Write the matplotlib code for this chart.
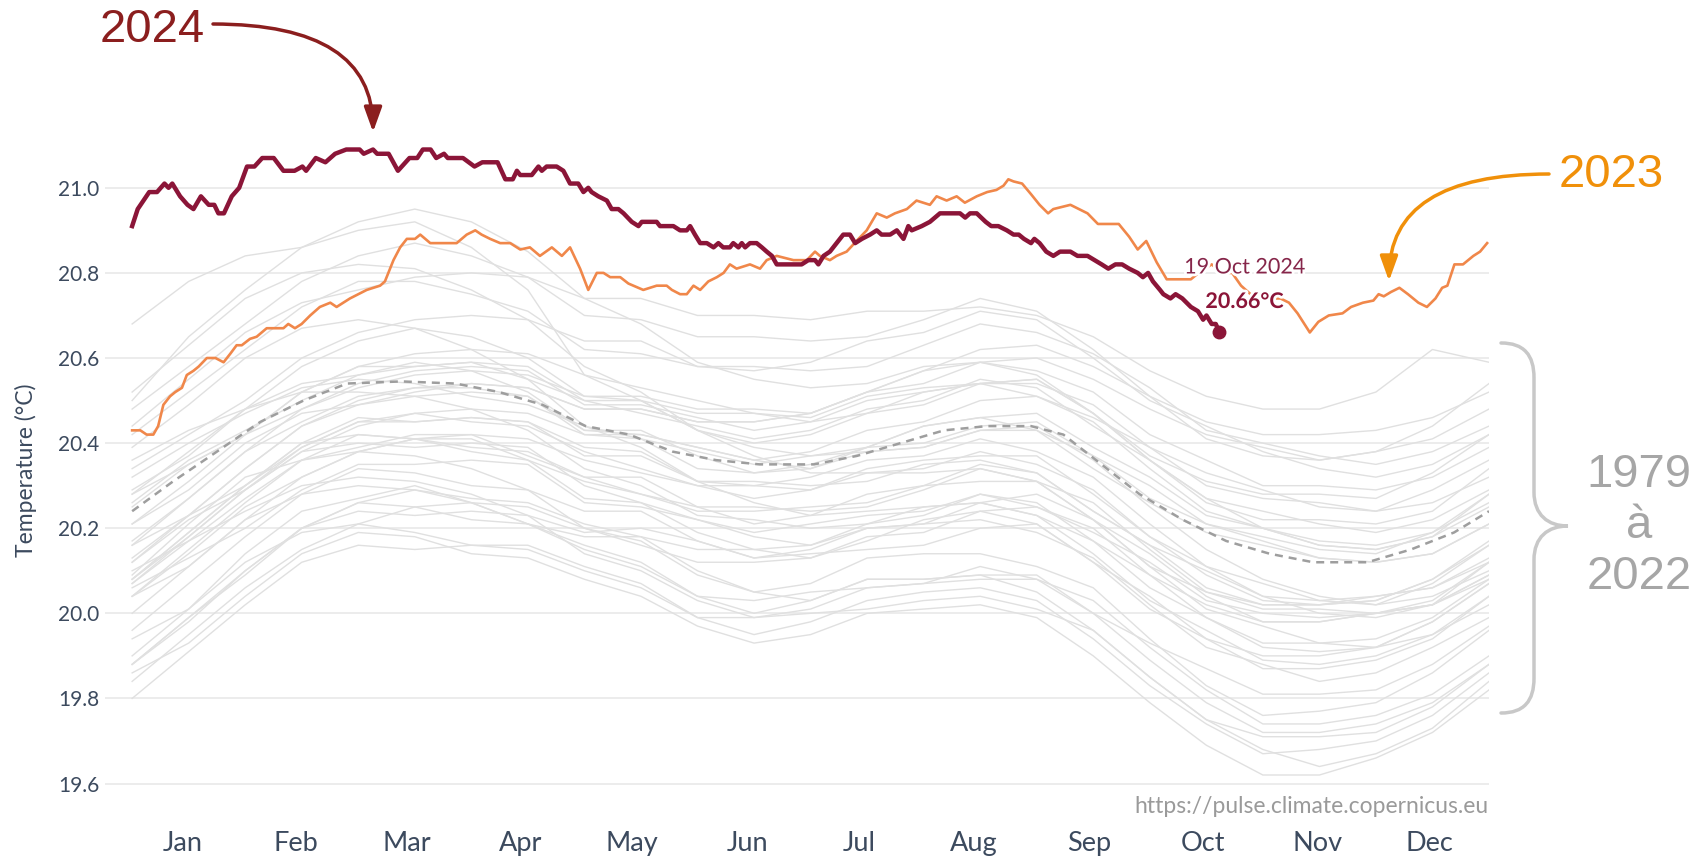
import numpy as np
import matplotlib
matplotlib.use('Agg')
import matplotlib.pyplot as plt
import matplotlib.patheffects as pe
from matplotlib.path import Path
from matplotlib.patches import PathPatch
from matplotlib.transforms import Affine2D

plt.rcParams['font.family'] = 'Lato'

W, H = 1702, 861

months = ['Jan', 'Feb', 'Mar', 'Apr', 'May', 'Jun', 'Jul', 'Aug', 'Sep', 'Oct', 'Nov', 'Dec']
month_mid = [13.5, 44, 74, 104.5, 134.5, 165.5, 195.5, 226.5, 257.5, 288, 319, 349]
yticks = [19.6, 19.8, 20.0, 20.2, 20.4, 20.6, 20.8, 21.0]

# 2024 (day of year from 1 Jan, daily SST in degC)
day2024 = [0, 1.5, 4.6, 6.7, 8.7, 9.8, 10.8, 12.9, 14.9, 16.5, 18.5, 20.6, 22.1, 23.2, 24.7, 26.8,
           28.8, 30.9, 32.9, 35.0, 38.1, 40.7, 43.7, 45.8, 46.8, 49.4, 52.0, 54.6, 57.6, 61.2, 62.3,
           64.8, 65.9, 69.0, 71.5, 74.6, 76.7, 78.2, 80.3, 81.8, 83.9, 84.9, 89.0, 92.1, 94.2, 98.3,
           100.4, 102.4, 103.5, 104.4, 107.5, 109.3, 110.2, 111.5, 114.2, 116.0, 117.8, 120.0, 121.4,
           122.7, 123.6, 125.4, 127.7, 129.0, 130.8, 132.2, 134.4, 136.2, 137.1, 141.1, 142.0, 145.6,
           147.4, 149.2, 150.1, 151.4, 152.8, 154.6, 156.4, 157.7, 159.0, 160.8, 161.7, 163.1, 164.0,
           164.9, 166.2, 168.0, 169.4, 170.7, 172.1, 173.4, 176.1, 180.1, 181.9, 183.7, 184.6, 186.0,
           187.7, 189.5, 191.3, 193.1, 194.5, 196.3, 198.5, 200.3, 201.6, 203.9, 205.7, 207.5, 208.8,
           209.7, 212.4, 214.6, 217.3, 219.1, 222.7, 224.1, 225.4, 227.2, 229.6, 231.1, 233.0, 235.3,
           237.1, 238.5, 239.9, 241.8, 242.7, 244.1, 245.9, 247.8, 249.6, 252.4, 254.3, 257.0, 258.9,
           260.8, 262.6, 264.5, 266.3, 268.2, 270.5, 271.9, 273.3, 274.6, 276.5, 277.4, 279.3, 280.7,
           282.5, 284.8, 286.7, 288.1, 289.0, 290.4, 291.5, 292.5]
val2024 = [20.91, 20.95, 20.99, 20.99, 21.01, 21.00, 21.01, 20.98, 20.96, 20.95, 20.98, 20.96, 20.96,
           20.94, 20.94, 20.98, 21.00, 21.05, 21.05, 21.07, 21.07, 21.04, 21.04, 21.05, 21.04, 21.07,
           21.06, 21.08, 21.09, 21.09, 21.08, 21.09, 21.08, 21.08, 21.04, 21.07, 21.07, 21.09, 21.09,
           21.07, 21.08, 21.07, 21.07, 21.05, 21.06, 21.06, 21.02, 21.02, 21.04, 21.03, 21.03, 21.05,
           21.04, 21.05, 21.05, 21.04, 21.01, 21.01, 20.99, 21.00, 20.99, 20.98, 20.97, 20.95, 20.95,
           20.94, 20.92, 20.91, 20.92, 20.92, 20.91, 20.91, 20.90, 20.90, 20.91, 20.89, 20.87, 20.87,
           20.86, 20.87, 20.86, 20.86, 20.87, 20.86, 20.87, 20.86, 20.87, 20.87, 20.86, 20.85, 20.84,
           20.82, 20.82, 20.82, 20.83, 20.83, 20.82, 20.84, 20.85, 20.87, 20.89, 20.89, 20.87, 20.88,
           20.89, 20.90, 20.89, 20.89, 20.90, 20.88, 20.91, 20.90, 20.91, 20.92, 20.94, 20.94, 20.94,
           20.93, 20.94, 20.94, 20.92, 20.91, 20.91, 20.90, 20.89, 20.89, 20.88, 20.87, 20.88, 20.87,
           20.85, 20.84, 20.85, 20.85, 20.84, 20.84, 20.83, 20.82, 20.81, 20.82, 20.82, 20.81, 20.80,
           20.79, 20.80, 20.78, 20.76, 20.75, 20.74, 20.75, 20.74, 20.72, 20.71, 20.69, 20.70, 20.68,
           20.68, 20.66]

# 2023
day2023 = [0, 2.2, 3.9, 5.7, 7.0, 8.4, 10.2, 11.6, 13.4, 14.7, 16.5, 17.9, 20.1, 22.4, 24.6, 26.4,
           28.1, 29.5, 31.7, 33.5, 36.2, 40.7, 42.0, 43.8, 45.6, 47.9, 50.5, 53.3, 55.0, 58.6, 63.1,
           66.7, 68.0, 70.3, 72.1, 73.9, 76.1, 77.5, 80.2, 87.3, 90.0, 92.3, 94.0, 96.3, 99.0, 101.7,
           104.4, 107.0, 109.7, 112.9, 115.6, 117.8, 120.5, 122.7, 125.0, 126.8, 128.6, 131.3, 133.5,
           137.5, 141.1, 143.8, 145.2, 147.4, 149.2, 151.0, 152.8, 155.0, 157.3, 159.1, 160.8, 162.6,
           166.2, 168.9, 170.7, 173.4, 177.9, 181.5, 183.7, 185.0, 187.7, 189.5, 192.2, 195.4, 197.6,
           200.3, 203.0, 205.2, 208.4, 211.0, 214.6, 216.4, 219.1, 221.8, 224.0, 227.2, 230.0, 232.5,
           234.4, 235.7, 237.1, 239.4, 241.8, 244.1, 246.4, 247.8, 252.4, 254.7, 257.0, 259.8, 265.4,
           268.2, 270.5, 272.8, 275.6, 278.3, 284.8, 287.6, 290.4, 293.2, 295.9, 298.3, 301.5, 305.2,
           308.9, 311.2, 313.5, 316.8, 319.1, 321.9, 325.6, 327.9, 331.1, 333.9, 335.3, 336.7, 338.6,
           340.9, 343.2, 346.0, 348.3, 350.6, 352.4, 353.8, 355.7, 358.0, 360.8, 362.6, 364.5]
val2023 = [20.43, 20.43, 20.42, 20.42, 20.44, 20.49, 20.51, 20.52, 20.53, 20.56, 20.57, 20.58, 20.60,
           20.60, 20.59, 20.61, 20.63, 20.63, 20.645, 20.65, 20.67, 20.67, 20.68, 20.67, 20.68, 20.70,
           20.72, 20.73, 20.72, 20.74, 20.76, 20.77, 20.78, 20.83, 20.86, 20.88, 20.88, 20.89, 20.87,
           20.87, 20.89, 20.90, 20.89, 20.88, 20.87, 20.87, 20.855, 20.86, 20.84, 20.86, 20.84, 20.86,
           20.81, 20.76, 20.80, 20.80, 20.79, 20.79, 20.775, 20.76, 20.77, 20.77, 20.76, 20.75, 20.75,
           20.77, 20.76, 20.78, 20.79, 20.80, 20.82, 20.81, 20.82, 20.81, 20.83, 20.84, 20.83, 20.83,
           20.85, 20.84, 20.83, 20.84, 20.85, 20.88, 20.90, 20.94, 20.93, 20.94, 20.95, 20.97, 20.96,
           20.98, 20.97, 20.98, 20.965, 20.98, 20.99, 20.995, 21.005, 21.02, 21.015, 21.01, 20.985,
           20.96, 20.94, 20.95, 20.96, 20.95, 20.94, 20.915, 20.915, 20.885, 20.855, 20.875, 20.825,
           20.785, 20.785, 20.805, 20.82, 20.80, 20.80, 20.77, 20.745, 20.74, 20.74, 20.73, 20.705,
           20.66, 20.685, 20.70, 20.705, 20.72, 20.73, 20.735, 20.75, 20.745, 20.755, 20.765, 20.75,
           20.73, 20.72, 20.74, 20.765, 20.77, 20.82, 20.82, 20.84, 20.85, 20.87]

# 1991-2020 average (dashed)
mean_days = [0, 11, 22.8, 34.5, 46.1, 57.8, 72.4, 87, 98.7, 110.4, 122, 133.7, 145.4, 157.1, 168.8,
             183.4, 195, 206.7, 218.4, 230, 241.8, 250.5, 259.3, 271, 282.6, 294.3, 306, 317.7,
             332.3, 344, 355.6, 365]
mean_vals = [20.24, 20.31, 20.38, 20.45, 20.50, 20.54, 20.545, 20.54, 20.52, 20.49, 20.44, 20.42,
             20.38, 20.36, 20.35, 20.35, 20.37, 20.40, 20.43, 20.44, 20.44, 20.42, 20.36, 20.28,
             20.22, 20.17, 20.14, 20.12, 20.12, 20.15, 20.19, 20.24]

# 1979-2022, semi-monthly readings
past_days = np.linspace(0, 365, 25)
y1979 = [19.88, 19.99, 20.09, 20.20, 20.26, 20.25, 20.22, 20.21, 20.16, 20.12, 20.04, 20.00, 20.03, 20.08, 20.08, 20.09, 20.09, 20.00, 19.89, 19.79, 19.72, 19.72, 19.74, 19.79, 19.88]
y1980 = [19.94, 20.01, 20.14, 20.24, 20.27, 20.30, 20.26, 20.21, 20.18, 20.18, 20.10, 20.05, 20.07, 20.13, 20.14, 20.14, 20.11, 20.06, 19.94, 19.83, 19.76, 19.77, 19.79, 19.86, 19.96]
y1981 = [19.84, 19.95, 20.06, 20.15, 20.21, 20.19, 20.16, 20.16, 20.11, 20.07, 19.99, 19.95, 19.98, 20.03, 20.05, 20.06, 20.03, 19.94, 19.83, 19.74, 19.67, 19.68, 19.70, 19.76, 19.86]
y1982 = [19.88, 19.98, 20.10, 20.20, 20.24, 20.23, 20.24, 20.23, 20.19, 20.20, 20.17, 20.13, 20.15, 20.20, 20.21, 20.26, 20.28, 20.22, 20.11, 20.05, 20.02, 20.02, 20.04, 20.06, 20.12]
y1983 = [20.09, 20.21, 20.32, 20.36, 20.38, 20.37, 20.34, 20.29, 20.20, 20.17, 20.09, 20.05, 20.03, 20.08, 20.08, 20.09, 20.05, 19.96, 19.85, 19.75, 19.68, 19.64, 19.67, 19.73, 19.84]
y1984 = [19.86, 19.93, 20.04, 20.14, 20.19, 20.18, 20.14, 20.13, 20.08, 20.04, 19.97, 19.93, 19.95, 20.00, 20.01, 20.02, 19.99, 19.90, 19.79, 19.69, 19.62, 19.62, 19.66, 19.72, 19.82]
y1985 = [19.80, 19.91, 20.02, 20.12, 20.16, 20.15, 20.16, 20.15, 20.10, 20.06, 19.99, 19.99, 20.01, 20.06, 20.07, 20.08, 20.08, 20.03, 19.92, 19.82, 19.74, 19.74, 19.76, 19.81, 19.90]
y1986 = [19.90, 20.01, 20.12, 20.19, 20.21, 20.25, 20.26, 20.25, 20.20, 20.16, 20.12, 20.12, 20.13, 20.18, 20.19, 20.24, 20.25, 20.20, 20.09, 20.02, 19.98, 19.98, 20.00, 20.02, 20.09]
y1987 = [20.08, 20.19, 20.30, 20.40, 20.46, 20.45, 20.46, 20.45, 20.39, 20.38, 20.31, 20.30, 20.32, 20.36, 20.37, 20.41, 20.38, 20.32, 20.21, 20.11, 20.07, 20.03, 20.02, 20.04, 20.10]
y1988 = [20.10, 20.17, 20.24, 20.30, 20.32, 20.31, 20.28, 20.23, 20.14, 20.10, 20.03, 19.99, 20.00, 20.01, 20.03, 20.04, 20.01, 19.96, 19.85, 19.75, 19.71, 19.71, 19.72, 19.78, 19.88]
y1989 = [19.88, 19.99, 20.10, 20.20, 20.26, 20.29, 20.27, 20.26, 20.21, 20.18, 20.15, 20.15, 20.13, 20.17, 20.22, 20.24, 20.21, 20.12, 20.04, 19.94, 19.90, 19.90, 19.92, 19.95, 20.02]
y1990 = [20.04, 20.15, 20.26, 20.36, 20.39, 20.42, 20.42, 20.37, 20.32, 20.32, 20.25, 20.21, 20.23, 20.28, 20.30, 20.31, 20.31, 20.26, 20.15, 20.05, 20.01, 20.01, 20.00, 20.02, 20.09]
y1991 = [20.08, 20.18, 20.29, 20.38, 20.40, 20.39, 20.40, 20.39, 20.30, 20.26, 20.22, 20.18, 20.16, 20.20, 20.21, 20.22, 20.19, 20.13, 20.02, 19.92, 19.88, 19.84, 19.86, 19.92, 19.99]
y1992 = [20.00, 20.11, 20.22, 20.28, 20.30, 20.29, 20.26, 20.21, 20.15, 20.11, 20.04, 20.03, 20.05, 20.06, 20.07, 20.11, 20.08, 20.00, 19.93, 19.87, 19.81, 19.81, 19.82, 19.88, 19.97]
y1993 = [19.96, 20.07, 20.18, 20.28, 20.34, 20.33, 20.30, 20.29, 20.24, 20.24, 20.17, 20.13, 20.14, 20.15, 20.16, 20.20, 20.21, 20.12, 20.01, 19.94, 19.87, 19.87, 19.89, 19.94, 20.04]
y1994 = [20.04, 20.14, 20.25, 20.32, 20.38, 20.41, 20.39, 20.38, 20.32, 20.28, 20.24, 20.24, 20.25, 20.26, 20.30, 20.35, 20.33, 20.24, 20.16, 20.10, 20.04, 20.00, 19.99, 20.02, 20.08]
y1995 = [20.08, 20.19, 20.30, 20.40, 20.42, 20.41, 20.41, 20.36, 20.27, 20.26, 20.19, 20.15, 20.16, 20.21, 20.23, 20.28, 20.26, 20.17, 20.09, 19.99, 19.93, 19.93, 19.94, 19.99, 20.08]
y1996 = [20.06, 20.13, 20.20, 20.29, 20.35, 20.35, 20.36, 20.35, 20.26, 20.25, 20.22, 20.19, 20.21, 20.23, 20.24, 20.28, 20.25, 20.19, 20.12, 20.03, 20.00, 19.99, 20.00, 20.02, 20.12]
y1997 = [20.12, 20.23, 20.34, 20.44, 20.49, 20.52, 20.54, 20.53, 20.48, 20.48, 20.45, 20.45, 20.47, 20.52, 20.57, 20.62, 20.63, 20.58, 20.51, 20.45, 20.42, 20.42, 20.43, 20.46, 20.52]
y1998 = [20.52, 20.63, 20.74, 20.80, 20.82, 20.81, 20.76, 20.69, 20.58, 20.52, 20.43, 20.37, 20.33, 20.33, 20.33, 20.34, 20.31, 20.22, 20.11, 20.01, 19.97, 19.93, 19.92, 19.98, 20.07]
y1999 = [20.07, 20.17, 20.27, 20.36, 20.42, 20.41, 20.38, 20.36, 20.31, 20.28, 20.25, 20.25, 20.24, 20.25, 20.29, 20.34, 20.31, 20.22, 20.14, 20.04, 19.98, 19.98, 20.00, 20.03, 20.12]
y2000 = [20.12, 20.22, 20.29, 20.38, 20.44, 20.47, 20.45, 20.44, 20.38, 20.34, 20.30, 20.30, 20.29, 20.34, 20.36, 20.37, 20.37, 20.28, 20.18, 20.09, 20.03, 20.02, 20.03, 20.08, 20.16]
y2001 = [20.16, 20.27, 20.38, 20.45, 20.51, 20.53, 20.53, 20.51, 20.42, 20.41, 20.38, 20.35, 20.37, 20.39, 20.44, 20.46, 20.43, 20.37, 20.30, 20.21, 20.18, 20.15, 20.14, 20.19, 20.28]
y2002 = [20.28, 20.38, 20.48, 20.54, 20.56, 20.58, 20.59, 20.58, 20.50, 20.50, 20.47, 20.47, 20.46, 20.51, 20.53, 20.54, 20.54, 20.49, 20.39, 20.33, 20.29, 20.25, 20.24, 20.26, 20.32]
y2003 = [20.32, 20.40, 20.47, 20.53, 20.55, 20.54, 20.51, 20.49, 20.44, 20.41, 20.34, 20.33, 20.35, 20.39, 20.40, 20.44, 20.45, 20.37, 20.27, 20.21, 20.17, 20.13, 20.12, 20.14, 20.21]
y2004 = [20.21, 20.29, 20.40, 20.47, 20.49, 20.51, 20.52, 20.51, 20.43, 20.43, 20.37, 20.33, 20.34, 20.39, 20.44, 20.46, 20.47, 20.39, 20.32, 20.23, 20.20, 20.17, 20.16, 20.19, 20.26]
y2005 = [20.26, 20.36, 20.43, 20.50, 20.56, 20.59, 20.57, 20.52, 20.43, 20.42, 20.39, 20.36, 20.34, 20.38, 20.39, 20.43, 20.44, 20.36, 20.25, 20.15, 20.08, 20.04, 20.02, 20.07, 20.16]
y2006 = [20.16, 20.23, 20.30, 20.39, 20.45, 20.47, 20.48, 20.47, 20.42, 20.42, 20.39, 20.36, 20.38, 20.43, 20.45, 20.50, 20.51, 20.46, 20.39, 20.30, 20.27, 20.26, 20.24, 20.29, 20.36]
y2007 = [20.36, 20.43, 20.48, 20.52, 20.52, 20.51, 20.48, 20.43, 20.34, 20.30, 20.23, 20.22, 20.20, 20.21, 20.25, 20.26, 20.23, 20.14, 20.03, 19.96, 19.89, 19.88, 19.90, 19.95, 20.04]
y2008 = [20.04, 20.11, 20.22, 20.32, 20.38, 20.41, 20.42, 20.41, 20.36, 20.33, 20.30, 20.27, 20.29, 20.33, 20.34, 20.38, 20.35, 20.29, 20.18, 20.11, 20.04, 20.03, 20.04, 20.06, 20.13]
y2009 = [20.13, 20.23, 20.34, 20.44, 20.50, 20.53, 20.54, 20.53, 20.48, 20.48, 20.45, 20.45, 20.47, 20.52, 20.54, 20.59, 20.57, 20.52, 20.42, 20.36, 20.30, 20.30, 20.29, 20.32, 20.39]
y2010 = [20.39, 20.49, 20.60, 20.67, 20.69, 20.67, 20.62, 20.55, 20.44, 20.39, 20.31, 20.26, 20.23, 20.24, 20.25, 20.26, 20.23, 20.17, 20.06, 19.99, 19.92, 19.91, 19.92, 19.98, 20.07]
y2011 = [20.07, 20.18, 20.29, 20.39, 20.45, 20.45, 20.46, 20.45, 20.37, 20.37, 20.31, 20.31, 20.30, 20.31, 20.35, 20.36, 20.33, 20.24, 20.16, 20.06, 20.02, 20.02, 20.03, 20.08, 20.17]
y2012 = [20.17, 20.27, 20.38, 20.48, 20.54, 20.57, 20.58, 20.57, 20.49, 20.49, 20.46, 20.43, 20.45, 20.50, 20.52, 20.54, 20.51, 20.45, 20.34, 20.24, 20.20, 20.16, 20.15, 20.18, 20.25]
y2013 = [20.25, 20.35, 20.42, 20.52, 20.58, 20.58, 20.59, 20.55, 20.50, 20.47, 20.44, 20.41, 20.43, 20.48, 20.50, 20.55, 20.53, 20.44, 20.36, 20.26, 20.22, 20.22, 20.21, 20.24, 20.34]
y2014 = [20.34, 20.42, 20.50, 20.60, 20.66, 20.69, 20.70, 20.69, 20.64, 20.64, 20.58, 20.58, 20.57, 20.58, 20.63, 20.68, 20.66, 20.61, 20.53, 20.43, 20.40, 20.37, 20.35, 20.38, 20.44]
y2015 = [20.44, 20.55, 20.66, 20.73, 20.76, 20.79, 20.80, 20.79, 20.74, 20.74, 20.70, 20.70, 20.69, 20.71, 20.71, 20.72, 20.70, 20.65, 20.57, 20.51, 20.48, 20.48, 20.52, 20.62, 20.59]
y2016 = [20.68, 20.78, 20.84, 20.86, 20.90, 20.92, 20.86, 20.76, 20.56, 20.50, 20.43, 20.39, 20.37, 20.38, 20.39, 20.43, 20.43, 20.34, 20.26, 20.19, 20.16, 20.13, 20.12, 20.14, 20.21]
y2017 = [20.21, 20.31, 20.42, 20.52, 20.58, 20.61, 20.62, 20.61, 20.56, 20.53, 20.50, 20.47, 20.45, 20.47, 20.52, 20.54, 20.55, 20.47, 20.36, 20.27, 20.20, 20.16, 20.15, 20.18, 20.28]
y2018 = [20.28, 20.35, 20.42, 20.48, 20.53, 20.56, 20.57, 20.56, 20.51, 20.51, 20.48, 20.48, 20.47, 20.52, 20.57, 20.59, 20.60, 20.55, 20.48, 20.42, 20.39, 20.36, 20.38, 20.41, 20.48]
y2019 = [20.48, 20.58, 20.68, 20.78, 20.84, 20.87, 20.84, 20.79, 20.70, 20.69, 20.65, 20.65, 20.64, 20.65, 20.69, 20.74, 20.71, 20.62, 20.51, 20.41, 20.37, 20.36, 20.38, 20.44, 20.54]
y2020 = [20.50, 20.65, 20.76, 20.86, 20.92, 20.95, 20.92, 20.85, 20.74, 20.68, 20.59, 20.55, 20.53, 20.54, 20.58, 20.59, 20.56, 20.47, 20.36, 20.27, 20.24, 20.21, 20.19, 20.22, 20.29]
y2021 = [20.29, 20.37, 20.48, 20.58, 20.64, 20.67, 20.65, 20.60, 20.51, 20.50, 20.43, 20.40, 20.42, 20.47, 20.49, 20.54, 20.55, 20.47, 20.37, 20.31, 20.28, 20.28, 20.27, 20.33, 20.42]
y2022 = [20.42, 20.52, 20.62, 20.72, 20.78, 20.78, 20.75, 20.71, 20.62, 20.61, 20.58, 20.57, 20.59, 20.64, 20.66, 20.71, 20.69, 20.60, 20.50, 20.44, 20.38, 20.34, 20.32, 20.35, 20.42]

past_years = [y1979, y1980, y1981, y1982, y1983, y1984, y1985, y1986, y1987, y1988, y1989,
              y1990, y1991, y1992, y1993, y1994, y1995, y1996, y1997, y1998, y1999, y2000,
              y2001, y2002, y2003, y2004, y2005, y2006, y2007, y2008, y2009, y2010, y2011,
              y2012, y2013, y2014, y2015, y2016, y2017, y2018, y2019, y2020, y2021, y2022]

c24 = '#8B1538'
c23 = '#F0874A'
c24_note = '#8B1E1E'
c23_note = '#F0900A'
tick_col = '#3c4a5e'


def fx(x):
    return x / W


def fy(y):
    return 1 - y / H


fig = plt.figure(figsize=(W / 100, H / 100), dpi=100)
ax = fig.add_axes([fx(105), fy(804.8), (1489 - 105) / W, (804.8 - 60.15) / H])

for vals in past_years:
    ax.plot(past_days, vals, color='#e0e0e0', lw=1.0, zorder=1)

ax.plot(mean_days, mean_vals, color='#9e9e9e', lw=1.8, dashes=(3.2, 2.4), zorder=2)
ax.plot(day2023, val2023, color=c23, lw=1.9, zorder=3, solid_joinstyle='round')
ax.plot(day2024, val2024, color=c24, lw=3.2, zorder=4, solid_joinstyle='round')
ax.plot(day2024[-1], val2024[-1], 'o', ms=9, color=c24, zorder=5)

halo = [pe.withStroke(linewidth=4, foreground='white')]
ax.annotate('19 Oct 2024', xy=(day2024[-1], val2024[-1]), xytext=(25, 65),
            textcoords='offset pixels', ha='center', va='center', fontsize=15.5,
            color='#86264a', path_effects=halo, zorder=6)
ax.annotate('%.2f°C' % val2024[-1], xy=(day2024[-1], val2024[-1]), xytext=(25, 31),
            textcoords='offset pixels', ha='center', va='center', fontsize=15.5,
            fontweight='bold', color=c24, path_effects=halo, zorder=6)

ax.set_xlim(-7.3, 365)
ax.set_ylim(19.55, 21.3)
ax.set_yticks(yticks)
ax.set_yticklabels(['%.1f' % v for v in yticks])
ax.set_xticks(month_mid)
ax.set_xticklabels(months)
ax.tick_params(axis='y', length=0, pad=4, labelsize=15, labelcolor=tick_col)
ax.tick_params(axis='x', length=0, pad=19, labelsize=19.5, labelcolor=tick_col)
ax.yaxis.grid(True, color='#ebebeb', lw=1.3)
ax.set_axisbelow(True)
for s in ax.spines.values():
    s.set_visible(False)

fig.text(fx(26), fy(470), 'Temperature (°C)', rotation=90, ha='center', va='center',
         fontsize=16.5, color=tick_col)
ax.text(1.0, -0.002, 'https://pulse.climate.copernicus.eu', transform=ax.transAxes,
        ha='right', va='center', fontsize=16.5, color='#9a9a9a')

# annotations
fig.text(fx(152), fy(30), '2024', ha='center', va='center', fontsize=34,
         color=c24_note, family='Liberation Sans')
ax.annotate('', xy=(64.8, 21.131), xycoords='data', xytext=(213, H - 24),
            textcoords='figure pixels', annotation_clip=False,
            arrowprops=dict(arrowstyle='-|>,head_length=0.75,head_width=0.27',
                            mutation_scale=20, color=c24_note, lw=2.5, shrinkA=0, shrinkB=0,
                            connectionstyle='angle3,angleA=0,angleB=90'))

fig.text(fx(1611), fy(175), '2023', ha='center', va='center', fontsize=34,
         color=c23_note, family='Liberation Sans')
ax.annotate('', xy=(338.1, 20.781), xycoords='data', xytext=(1549, H - 174),
            textcoords='figure pixels', annotation_clip=False,
            arrowprops=dict(arrowstyle='-|>,head_length=0.75,head_width=0.27',
                            mutation_scale=20, color=c23_note, lw=2.5, shrinkA=0, shrinkB=0,
                            connectionstyle='angle3,angleA=0,angleB=90'))

fig.text(fx(1639), fy(526), '1979\nà\n2022', ha='center', va='center', fontsize=34,
         color='#a6a6a6', family='Liberation Sans', linespacing=1.2, multialignment='center')

# curly brace
verts = [(1501, 343), (1524, 343), (1534, 355), (1534, 378),
         (1534, 492),
         (1534, 515), (1548, 526), (1568, 526),
         (1548, 526), (1534, 537), (1534, 560),
         (1534, 678),
         (1534, 701), (1524, 713), (1501, 713)]
codes = [Path.MOVETO, Path.CURVE4, Path.CURVE4, Path.CURVE4,
         Path.LINETO,
         Path.CURVE4, Path.CURVE4, Path.CURVE4,
         Path.CURVE4, Path.CURVE4, Path.CURVE4,
         Path.LINETO,
         Path.CURVE4, Path.CURVE4, Path.CURVE4]
brace_tr = Affine2D().scale(1 / W, -1 / H).translate(0, 1) + fig.transFigure
fig.patches.append(PathPatch(Path(verts, codes), fill=False, edgecolor='#c8c8c8', lw=2.5,
                             capstyle='round', transform=brace_tr))

fig.savefig('out.png', dpi=100, facecolor='white')
